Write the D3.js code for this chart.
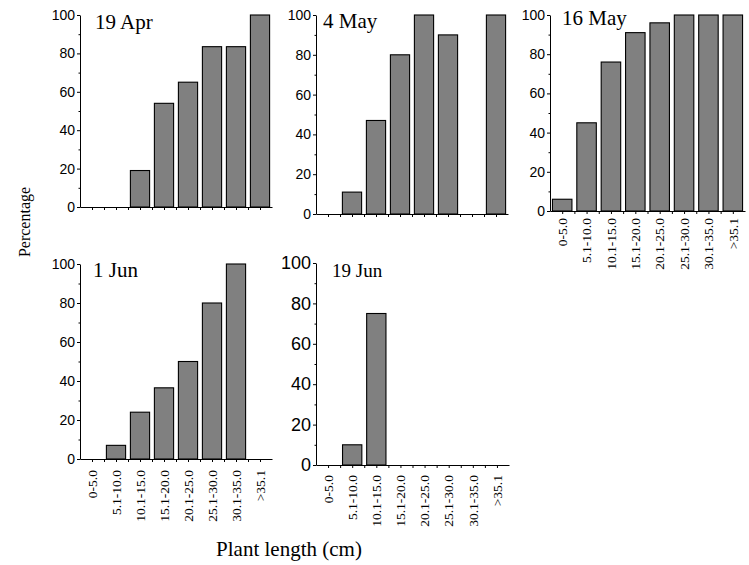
<!DOCTYPE html>
<html>
<head>
<meta charset="utf-8">
<script src="https://cdn.jsdelivr.net/npm/d3@7"></script>
<style>
  html, body { margin: 0; padding: 0; background: #fff; }
  svg { display: block; }
</style>
</head>
<body>
<script>
// ---- data ----
const categories = ["0-5.0", "5.1-10.0", "10.1-15.0", "15.1-20.0", "20.1-25.0", "25.1-30.0", "30.1-35.0", ">35.1"];
const apr19 = [0, 0, 19, 54, 65, 83.5, 83.5, 100];
const may4  = [0, 11, 47, 80, 100, 90, 0, 100];
const may16 = [6, 45, 76, 91, 96, 100, 100, 100];
const jun1  = [0, 7, 24, 36.5, 50, 80, 100, 0];
const jun19 = [0, 10, 75, 0, 0, 0, 0, 0];
const titles = ["19 Apr", "4 May", "16 May", "1 Jun", "19 Jun"];
const yTicks = [0, 20, 40, 60, 80, 100];
const yMinorTicks = [10, 30, 50, 70, 90];
const yLabel = "Percentage";
const xLabel = "Plant length (cm)";

// ---- layout ----
const W = 749, H = 565;
const panels = [
  { values: apr19, title: titles[0], x0: 80,  x1: 272, yTop: 15,  yBot: 207, tx: 95,  ty: 29,  tSize: 21, nSize: 14, labels: false },
  { values: may4,  title: titles[1], x0: 316, x1: 508, yTop: 15,  yBot: 214, tx: 323, ty: 28,  tSize: 21, nSize: 14, labels: false },
  { values: may16, title: titles[2], x0: 550, x1: 745, yTop: 15,  yBot: 211, tx: 562, ty: 25,  tSize: 21, nSize: 14, labels: true, lOff: 7 },
  { values: jun1,  title: titles[3], x0: 80,  x1: 272, yTop: 264, yBot: 459, tx: 93,  ty: 277, tSize: 21, nSize: 14, labels: true, lOff: 11 },
  { values: jun19, title: titles[4], x0: 316, x1: 509, yTop: 263, yBot: 465, tx: 332, ty: 277, tSize: 19, nSize: 18, labels: true, lOff: 10 }
];

const serif = "'Liberation Serif', 'Times New Roman', serif";
const sans = "'Liberation Sans', Arial, sans-serif";

const svg = d3.select("body").append("svg").attr("width", W).attr("height", H);

panels.forEach(p => {
  const g = svg.append("g");
  const x = d3.scaleBand().domain(categories).range([p.x0, p.x1]).paddingInner(0.2).paddingOuter(0.1);
  const y = d3.scaleLinear().domain([0, 100]).range([p.yBot, p.yTop]);
  const xPos = d3.scaleLinear().domain([0, categories.length]).range([p.x0, p.x1]);

  // bars
  g.selectAll("rect.bar")
    .data(p.values.map((v, i) => ({ c: categories[i], v })).filter(d => d.v > 0))
    .enter().append("rect")
    .attr("class", "bar")
    .attr("x", d => x(d.c))
    .attr("width", x.bandwidth())
    .attr("y", d => y(d.v))
    .attr("height", d => y(0) - y(d.v))
    .attr("fill", "#808080")
    .attr("stroke", "#000")
    .attr("stroke-width", 1.1);

  // x axis (ticks at centres and boundaries)
  const xTickVals = d3.range(1, categories.length * 2).map(k => k / 2);
  const xa = g.append("g").attr("transform", `translate(0,${p.yBot})`)
    .call(d3.axisBottom(xPos).tickValues(xTickVals).tickSize(3).tickSizeOuter(0).tickFormat(""));
  xa.select(".domain").attr("stroke", "#000");
  xa.selectAll(".tick line").attr("stroke", "#000");

  // y axis
  const ya = g.append("g").attr("transform", `translate(${p.x0},0)`)
    .call(d3.axisLeft(y).tickValues(yTicks).tickSize(3).tickSizeOuter(0).tickPadding(2));
  ya.select(".domain").attr("stroke", "#000");
  ya.selectAll(".tick line").attr("stroke", "#000");
  ya.selectAll(".tick text").attr("font-family", sans).attr("font-size", p.nSize).attr("fill", "#000");
  const ym = g.append("g").attr("transform", `translate(${p.x0},0)`)
    .call(d3.axisLeft(y).tickValues(yMinorTicks).tickSize(1.5).tickFormat(""));
  ym.select(".domain").remove();
  ym.selectAll(".tick line").attr("stroke", "#000");

  // category labels
  if (p.labels) {
    g.selectAll("text.cat")
      .data(categories)
      .enter().append("text")
      .attr("class", "cat")
      .attr("transform", d => `translate(${x(d) + x.bandwidth() / 2},${p.yBot + p.lOff}) rotate(-90)`)
      .attr("text-anchor", "end")
      .attr("dy", "0.35em")
      .attr("font-family", serif)
      .attr("font-size", 13.5)
      .text(d => d);
  }

  // title
  g.append("text")
    .attr("x", p.tx).attr("y", p.ty)
    .attr("font-family", serif)
    .attr("font-size", p.tSize)
    .text(p.title);
});

svg.append("text")
  .attr("transform", "translate(30,222) rotate(-90)")
  .attr("text-anchor", "middle")
  .attr("font-family", serif)
  .attr("font-size", 16)
  .text(yLabel);

svg.append("text")
  .attr("x", 289).attr("y", 556)
  .attr("text-anchor", "middle")
  .attr("font-family", serif)
  .attr("font-size", 21)
  .text(xLabel);
</script>
</body>
</html>
